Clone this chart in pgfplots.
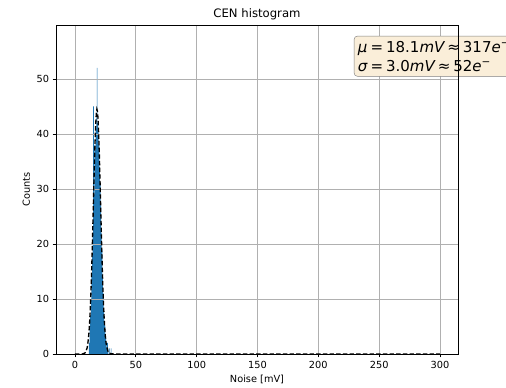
\documentclass[border=0pt]{standalone}
\usepackage{pgfplots}
\pgfplotsset{compat=1.18}
\usepackage{fontspec}
\setmainfont{DejaVu Sans}
\definecolor{c0}{HTML}{1F77B4}
\definecolor{boxfill}{HTML}{FAEED9}
\begin{document}
\fontsize{8.8}{10.5}\selectfont
\begin{tikzpicture}
\begin{axis}[
  set layers,
  scale only axis, width=361.8pt, height=296.1pt,
  xmin=-15.6, xmax=314.8, ymin=0, ymax=59.8,
  xtick={0,50,...,300}, ytick={0,10,...,50},
  tick align=outside, tick pos=left,
  major tick length=3pt,
  tick style={black, line width=0.6pt},
  grid=major, grid style={draw=black!31, line width=0.6pt},
  /pgf/number format/assume math mode=true,
  ticklabel style={font=\fontsize{8.8}{10}\selectfont},
  xlabel={Noise [mV]}, ylabel={Counts},
  title={CEN histogram}, title style={font=\fontsize{10.5}{12}\selectfont, yshift=-4.5pt},
  axis line style={line width=0.6pt},
]
\addplot[const plot, fill=c0, draw=none, on layer=axis background] coordinates {
(11.5,2) (12.0,5) (12.5,7) (13.0,10) (13.5,14) (14.0,18) (14.5,22)
(15.0,45) (15.5,29) (16.0,38) (16.5,37) (17.0,41) (17.5,43) (18.0,52)
(18.5,42) (19.0,41) (19.5,38) (20.0,34) (20.5,31) (21.0,27) (21.5,22)
(22.0,19) (22.5,14) (23.0,11) (23.5,8) (24.0,6) (24.5,5) (25.0,3)
(25.5,2) (26.0,1) (26.5,2) (27.0,1) (27.5,0) (28.0,1) (28.5,0)
(29.0,0) (29.5,1) (30.0,0)
} \closedcycle;
\addplot[black, dashed, line width=1.2pt, dash pattern=on 4pt off 2pt] coordinates {
(0,0) (6,0) (8,0.15) (9,0.45) (10,1.14) (10.5,1.82) (11,2.73) (11.5,3.95)
(12,5.63) (12.5,7.79) (13,10.5) (13.5,13.75) (14,17.5) (14.5,21.7)
(15,26.1) (15.5,30.6) (16,34.8) (16.5,38.6) (17,41.6) (17.5,43.6)
(18,44.5) (18.5,44.1) (19,42.6) (19.5,39.9) (20,36.4) (20.5,32.3)
(21,27.9) (21.5,23.4) (22,19.1) (22.5,15.2) (23,11.7) (23.5,8.8)
(24,6.45) (24.5,4.6) (25,3.15) (25.5,2.1) (26,1.38) (27,0.55)
(28,0.19) (30,0.02) (35,0) (300,0)
};
\coordinate (boxpos) at (rel axis cs:0.741,0.967);
\end{axis}
\node[overlay, anchor=north west, draw=black!50, fill=boxfill, rounded corners=3pt,
      inner xsep=3.5pt, inner ysep=4.5pt, align=left, font=\fontsize{13.5}{17}\selectfont]
  at (boxpos) {{\itshape μ}\hspace{0.2em}=\hspace{0.2em}18.1{\itshape mV}\hspace{0.2em}≈\hspace{0.2em}317{\itshape e}\textsuperscript{−}\\
               {\itshape σ}\hspace{0.2em}=\hspace{0.2em}3.0{\itshape mV}\hspace{0.2em}≈\hspace{0.2em}52{\itshape e}\textsuperscript{−}};
\draw[overlay, line width=0.6pt] (rel axis cs:1,0) -- (rel axis cs:1,1);
\pgfresetboundingbox
\path[use as bounding box] (-50.4pt,-29.7pt) rectangle (405pt,318.6pt);
\end{tikzpicture}
\end{document}
